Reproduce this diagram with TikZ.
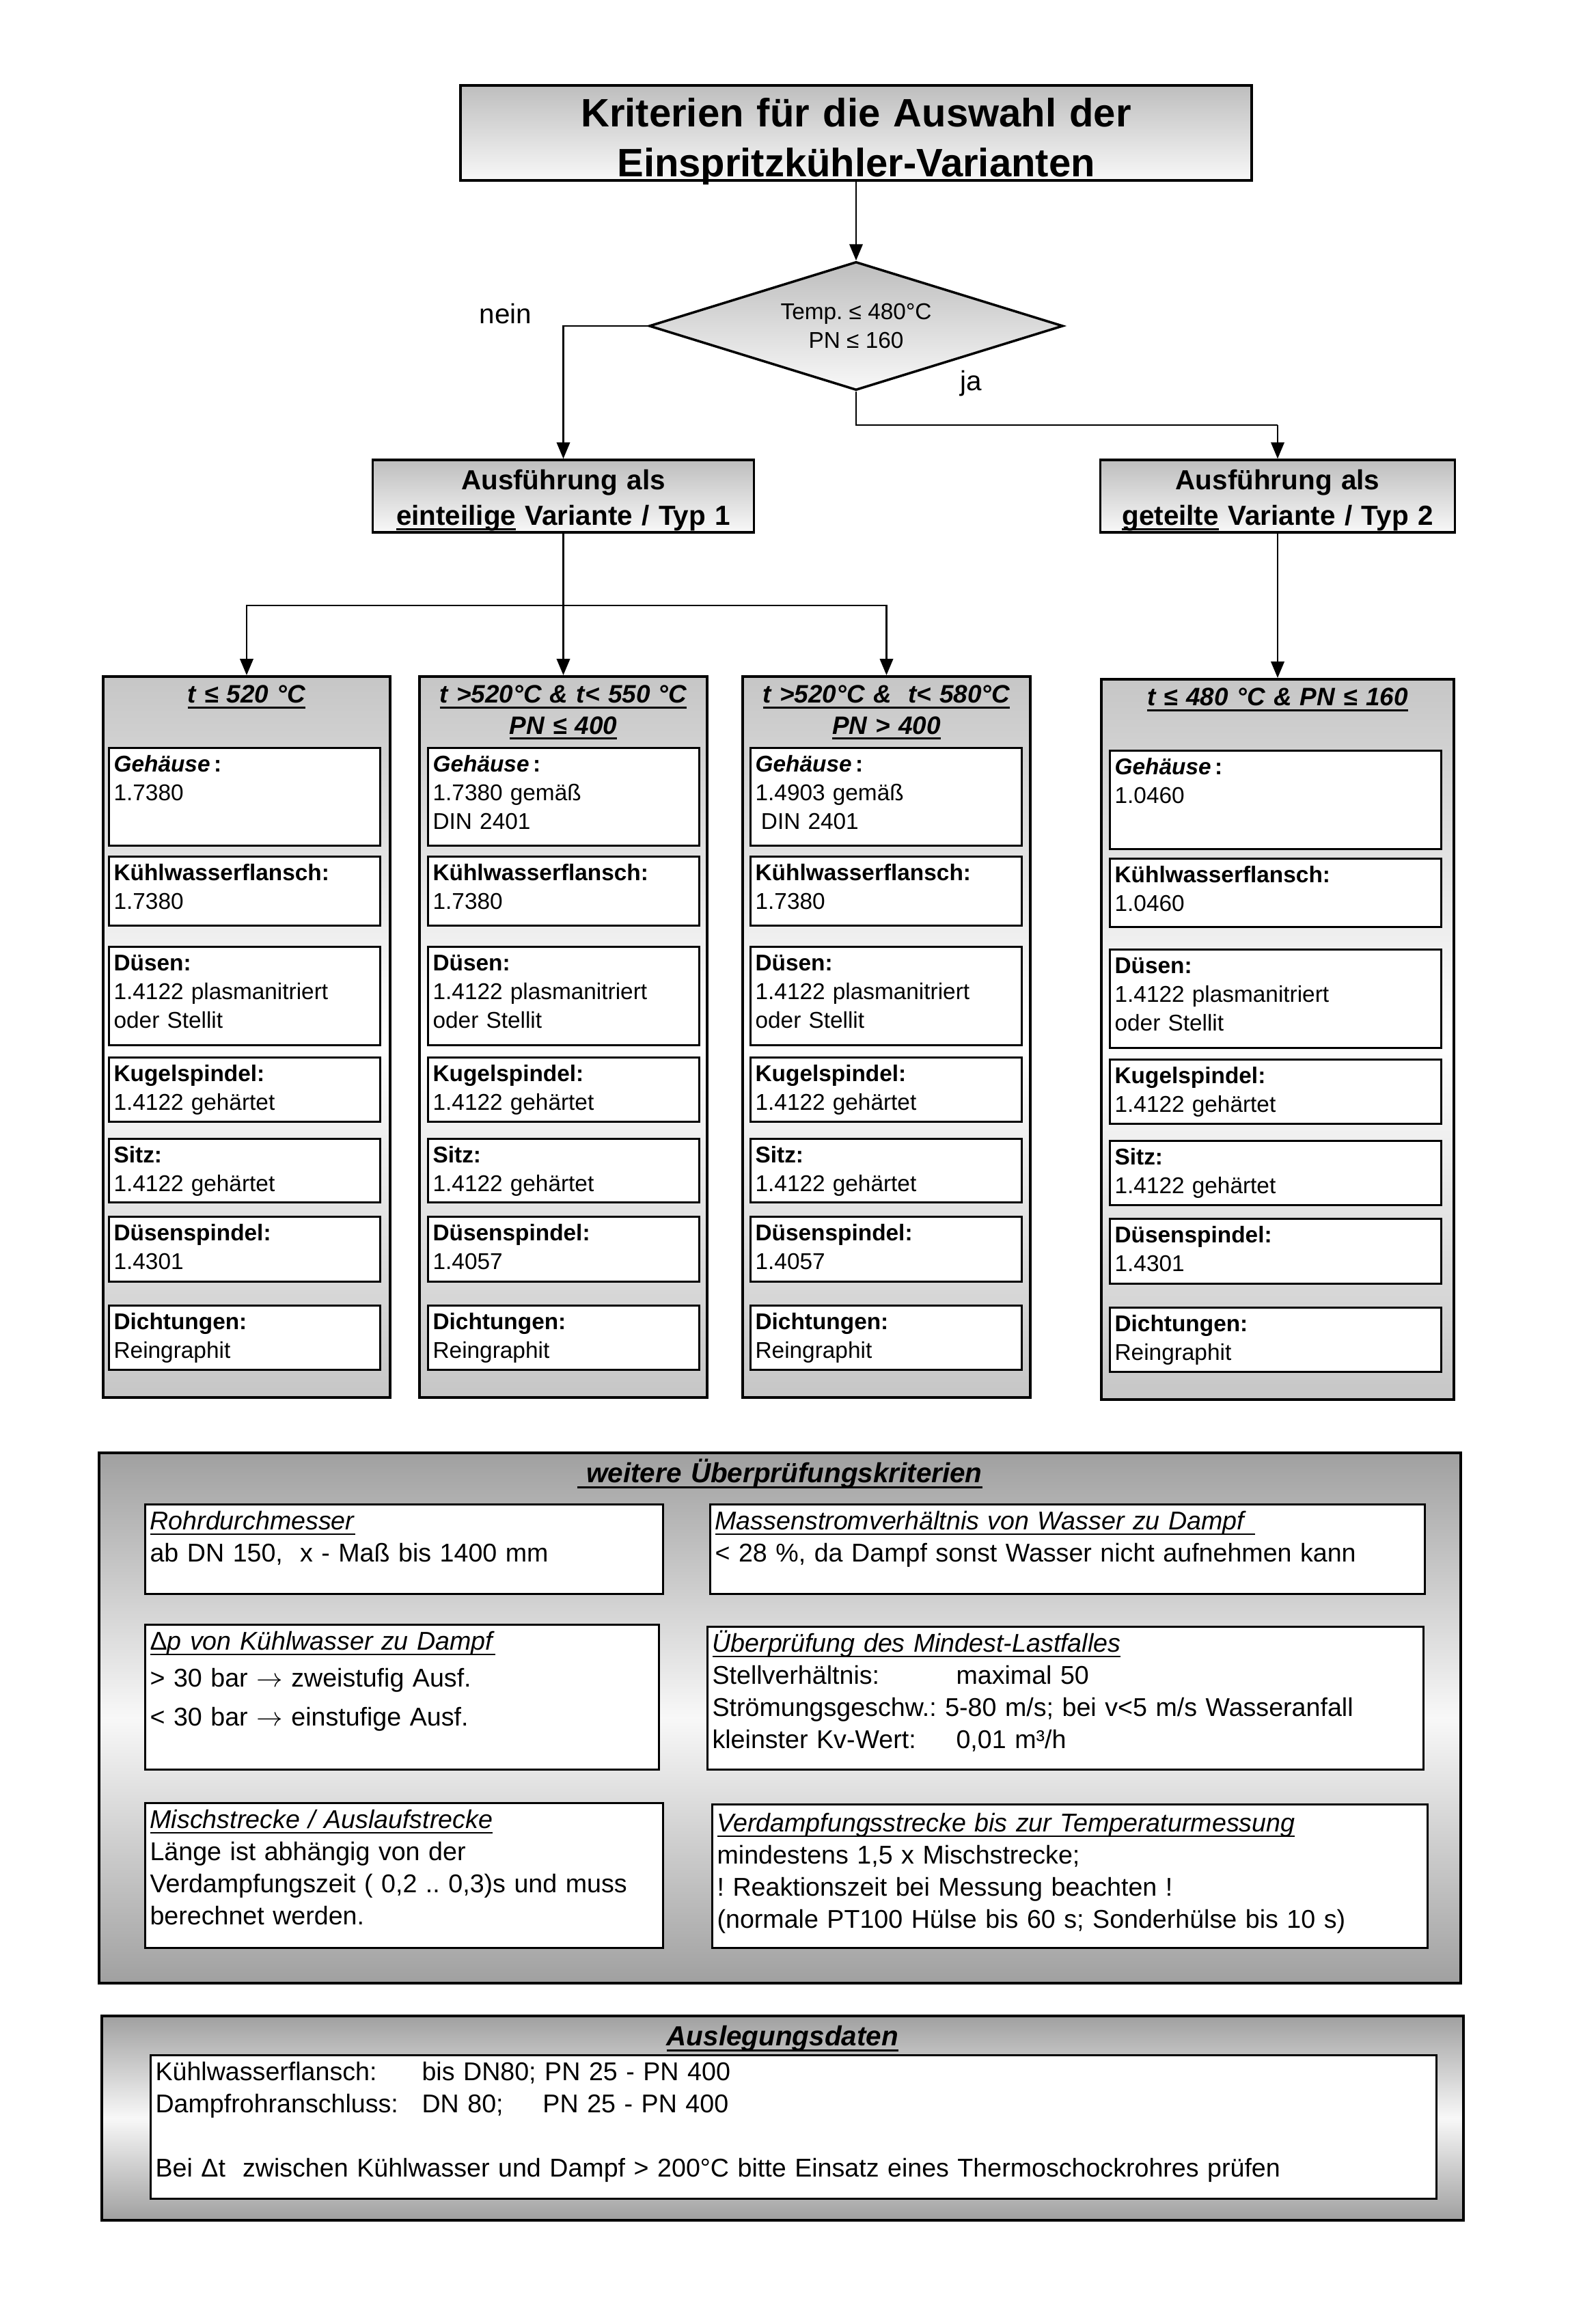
\documentclass[tikz,border=0pt]{standalone}
\usepackage{fontspec}
\setmainfont{Liberation Sans}
\usetikzlibrary{shapes.geometric, arrows.meta, positioning, calc}
\definecolor{HeadGray}{HTML}{BEBEBE}
\definecolor{ColGray}{HTML}{C6C6C6}
\definecolor{PanelGray}{HTML}{A0A0A0}
\definecolor{PaleGray}{HTML}{F8F8F8}
\newsavebox{\undlbox}
\newcommand{\undl}[1]{\sbox{\undlbox}{#1}\leavevmode\rlap{\rule[-2.2pt]{\wd\undlbox}{0.8pt}}\usebox{\undlbox}}

\begin{document}
\frenchspacing
\begin{tikzpicture}[
        headbox/.style={rectangle, draw, line width=1pt, top color=HeadGray, bottom color=PaleGray, align=center, inner sep=0pt},
        titlebox/.style={headbox, text width=11.58cm, text height=0.60cm, text depth=0.79cm, font=\fontsize{16.5}{21}\selectfont\bfseries},
        typbox/.style={headbox, text height=0.43cm, text depth=0.63cm, font=\fontsize{11.5}{14.8}\selectfont\bfseries},
        decision/.style={diamond, draw, line width=1pt, top color=HeadGray, bottom color=PaleGray, shape aspect=3.2, minimum width=6.06cm, minimum height=1.88cm, inner sep=1pt, align=center, font=\fontsize{9.5}{11.7}\selectfont},
        critcol/.style={rectangle, draw, line width=1pt, anchor=north, top color=ColGray, bottom color=ColGray, middle color=white, inner sep=0pt, align=center, text height=0.39cm, font=\fontsize{10.5}{13}\selectfont\bfseries\itshape},
        matbox/.style={rectangle, draw, line width=0.9pt, fill=white, anchor=north west, align=left, inner xsep=0.07cm, inner ysep=0pt, text width=3.83cm, text height=0.35cm, font=\fontsize{9.5}{12}\selectfont},
        widebox/.style={matbox, text width=4.71cm},
        panel/.style={rectangle, draw, line width=1pt, anchor=north west, top color=PanelGray, bottom color=PanelGray, middle color=PaleGray, inner sep=0pt, align=center, text width=19.93cm, text height=0.44cm, font=\fontsize{11.5}{14}\selectfont\bfseries\itshape},
        infobox/.style={rectangle, draw, line width=0.9pt, fill=white, anchor=north west, align=left, inner xsep=0.07cm, inner ysep=0pt, text height=0.37cm, font=\fontsize{10.7}{13.4}\selectfont},
        lbl/.style={font=\fontsize{11.5}{14}\selectfont},
        arr/.style={-{Triangle[length=6.8pt, width=5.5pt]}, line width=0.75pt}
      ]
        \useasboundingbox (0,0) rectangle (23.36,-33.92);

        % decision part
        \node[titlebox] (title) at (12.53,-1.945) {Kriterien für die Auswahl der\\Einspritzkühler-Varianten};
        \node[decision] (dec) at (12.53,-4.77) {Temp. ≤ 480°C\\PN ≤ 160};
        \node[lbl] (nein) at (7.40,-4.59) {nein};
        \node[lbl] (ja) at (14.21,-5.61) {ja};
        \node[typbox, text width=5.58cm] (typ1) at (8.245,-7.26) {Ausführung als\\\undl{einteilige} Variante / Typ 1};
        \node[typbox, text width=5.19cm] (typ2) at (18.70,-7.26) {Ausführung als\\\undl{geteilte} Variante / Typ 2};
        \coordinate (jabend) at (18.70,-6.22);
        \coordinate (split) at (8.245,-8.86);

        % columns
        \node[critcol, text width=4.20cm, text depth=10.16cm] (col1) at (3.61,-9.88) {\undl{t ≤ 520 °C}};
        \node[critcol, text width=4.21cm, text depth=10.16cm] (col2) at (8.245,-9.88) {\undl{t >520°C \& t< 550 °C}\\\undl{PN ≤ 400}};
        \node[critcol, text width=4.21cm, text depth=10.16cm] (col3) at (12.975,-9.88) {\undl{t >520°C \&~ t< 580°C}\\\undl{PN > 400}};
        \node[critcol, text width=5.16cm, text depth=10.15cm] (col4) at (18.70,-9.92) {\undl{t ≤ 480 °C \& PN ≤ 160}};

        \node[matbox, text depth=1.08cm] (geh1) at (1.58,-10.93) {\textbf{\textit{Gehäuse}\,:}\\1.7380\\\mbox{}};
        \node[matbox, text depth=0.66cm] (kw1) at (1.58,-12.52) {\textbf{Kühlwasserflansch:}\\1.7380};
        \node[matbox, text depth=1.09cm] (dues1) at (1.58,-13.84) {\textbf{Düsen:}\\1.4122 plasmanitriert\\oder Stellit};
        \node[matbox, text depth=0.59cm] (kug1) at (1.58,-15.46) {\textbf{Kugelspindel:}\\1.4122 gehärtet};
        \node[matbox, text depth=0.58cm] (sitz1) at (1.58,-16.65) {\textbf{Sitz:}\\1.4122 gehärtet};
        \node[matbox, text depth=0.60cm] (dsp1) at (1.58,-17.79) {\textbf{Düsenspindel:}\\1.4301};
        \node[matbox, text depth=0.59cm] (dicht1) at (1.58,-19.09) {\textbf{Dichtungen:}\\Reingraphit};

        \node[matbox, text depth=1.08cm] (geh2) at (6.25,-10.93) {\textbf{\textit{Gehäuse}\,:}\\1.7380 gemäß\\DIN 2401};
        \node[matbox, text depth=0.66cm] (kw2) at (6.25,-12.52) {\textbf{Kühlwasserflansch:}\\1.7380};
        \node[matbox, text depth=1.09cm] (dues2) at (6.25,-13.84) {\textbf{Düsen:}\\1.4122 plasmanitriert\\oder Stellit};
        \node[matbox, text depth=0.59cm] (kug2) at (6.25,-15.46) {\textbf{Kugelspindel:}\\1.4122 gehärtet};
        \node[matbox, text depth=0.58cm] (sitz2) at (6.25,-16.65) {\textbf{Sitz:}\\1.4122 gehärtet};
        \node[matbox, text depth=0.60cm] (dsp2) at (6.25,-17.79) {\textbf{Düsenspindel:}\\1.4057};
        \node[matbox, text depth=0.59cm] (dicht2) at (6.25,-19.09) {\textbf{Dichtungen:}\\Reingraphit};

        \node[matbox, text depth=1.08cm] (geh3) at (10.97,-10.93) {\textbf{\textit{Gehäuse}\,:}\\1.4903 gemäß\\\hspace*{0.25em}DIN 2401};
        \node[matbox, text depth=0.66cm] (kw3) at (10.97,-12.52) {\textbf{Kühlwasserflansch:}\\1.7380};
        \node[matbox, text depth=1.09cm] (dues3) at (10.97,-13.84) {\textbf{Düsen:}\\1.4122 plasmanitriert\\oder Stellit};
        \node[matbox, text depth=0.59cm] (kug3) at (10.97,-15.46) {\textbf{Kugelspindel:}\\1.4122 gehärtet};
        \node[matbox, text depth=0.58cm] (sitz3) at (10.97,-16.65) {\textbf{Sitz:}\\1.4122 gehärtet};
        \node[matbox, text depth=0.60cm] (dsp3) at (10.97,-17.79) {\textbf{Düsenspindel:}\\1.4057};
        \node[matbox, text depth=0.59cm] (dicht3) at (10.97,-19.09) {\textbf{Dichtungen:}\\Reingraphit};

        \node[widebox, text depth=1.09cm] (geh4) at (16.23,-10.97) {\textbf{\textit{Gehäuse}\,:}\\1.0460\\\mbox{}};
        \node[widebox, text depth=0.65cm] (kw4) at (16.23,-12.55) {\textbf{Kühlwasserflansch:}\\1.0460};
        \node[widebox, text depth=1.09cm] (dues4) at (16.23,-13.88) {\textbf{Düsen:}\\1.4122 plasmanitriert\\oder Stellit};
        \node[widebox, text depth=0.59cm] (kug4) at (16.23,-15.49) {\textbf{Kugelspindel:}\\1.4122 gehärtet};
        \node[widebox, text depth=0.59cm] (sitz4) at (16.23,-16.68) {\textbf{Sitz:}\\1.4122 gehärtet};
        \node[widebox, text depth=0.60cm] (dsp4) at (16.23,-17.82) {\textbf{Düsenspindel:}\\1.4301};
        \node[widebox, text depth=0.59cm] (dicht4) at (16.23,-19.12) {\textbf{Dichtungen:}\\Reingraphit};

        % further checks
        \node[panel, text depth=7.32cm] (checks) at (1.43,-21.24) {\undl{\ weitere Überprüfungskriterien}};
        \node[infobox, text width=7.44cm, text depth=0.94cm] (rohr) at (2.11,-22.00) {\undl{\textit{Rohrdurchmesser}}\\ab DN 150,\ \ x - Maß bis 1400 mm};
        \node[infobox, text width=10.32cm, text depth=0.94cm] (massen) at (10.38,-22.00) {\undl{\textit{Massenstromverhältnis von Wasser zu Dampf\ }}\\< 28 \%, da Dampf sonst Wasser nicht aufnehmen kann};
        \node[infobox, text width=7.38cm, text depth=1.75cm] (dp) at (2.11,-23.76) {\undl{\textup{Δ}\textit{p von Kühlwasser zu Dampf}}\\[0.07cm]> 30 bar $\rightarrow$ zweistufig Ausf.\\[0.10cm]< 30 bar $\rightarrow$ einstufige Ausf.};
        \node[infobox, text width=10.34cm, text depth=1.72cm] (last) at (10.34,-23.79) {\undl{\textit{Überprüfung des Mindest-Lastfalles}}\\\makebox[3.57cm][l]{Stellverhältnis:}maximal 50\\Strömungsgeschw.: 5-80 m/s; bei v<5 m/s Wasseranfall\\\makebox[3.57cm][l]{kleinster Kv-Wert:}0,01 m³/h};
        \node[infobox, text width=7.44cm, text depth=1.75cm] (misch) at (2.11,-26.37) {\undl{\textit{Mischstrecke / Auslaufstrecke}}\\Länge ist abhängig von der\\Verdampfungszeit ( 0,2 .. 0,3)s und muss\\berechnet werden.};
        \node[infobox, text width=10.33cm, text height=0.40cm, text depth=1.70cm] (verd) at (10.41,-26.39) {\undl{\textit{Verdampfungsstrecke bis zur Temperaturmessung}}\\mindestens 1,5 x Mischstrecke;\\! Reaktionszeit bei Messung beachten !\\(normale PT100 Hülse bis 60 s; Sonderhülse bis 10 s)};

        % design data
        \node[panel, text depth=2.55cm] (ausl) at (1.47,-29.48) {\undl{Auslegungsdaten}};
        \node[infobox, text width=18.68cm, text depth=1.73cm] (daten) at (2.19,-30.06) {\makebox[3.9cm][l]{Kühlwasserflansch:}bis DN80; PN 25 - PN 400\\\makebox[3.9cm][l]{Dampfrohranschluss:}\makebox[1.77cm][l]{DN 80;}PN 25 - PN 400\\\mbox{}\\Bei Δt\ \ zwischen Kühlwasser und Dampf > 200°C bitte Einsatz eines Thermoschockrohres prüfen};

        \draw[arr] (title) -- (dec);
        \draw[arr] (dec.west) -| (typ1.north);
        \draw[line width=0.75pt] (dec.south) |- (jabend);
        \draw[arr] (jabend) -- (typ2.north);
        \draw[line width=0.75pt] (typ1.south) -- (split);
        \draw[arr] (split) -| (col1.north);
        \draw[arr] (split) -- (col2.north);
        \draw[arr] (split) -| (col3.north);
        \draw[arr] (typ2.south) -- (col4.north);
      \end{tikzpicture}
\end{document}
